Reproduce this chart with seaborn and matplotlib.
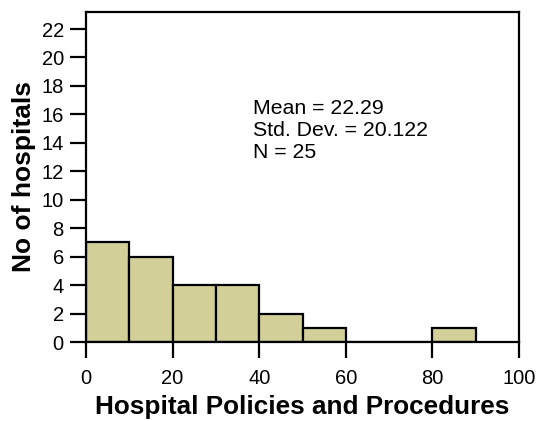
import numpy as np
import pandas as pd
import matplotlib
matplotlib.use("Agg")
import matplotlib.pyplot as plt
import seaborn as sns

# histogram data: bins of width 10
bin_edges = [0, 10, 20, 30, 40, 50, 60, 70, 80, 90]
bin_counts = [7, 6, 4, 4, 2, 1, 0, 0, 1]
bin_mids = [5, 15, 25, 35, 45, 55, 65, 75, 85]

x_ticks = [0, 20, 40, 60, 80, 100]
y_ticks = list(range(0, 23, 2))

stats_text = "Mean = 22.29\nStd. Dev. = 20.122\nN = 25"

sns.set_style("white")
plt.rcParams['font.family'] = ['Liberation Sans', 'DejaVu Sans']
plt.rcParams['text.color'] = 'black'
plt.rcParams['axes.labelcolor'] = 'black'
plt.rcParams['xtick.color'] = 'black'
plt.rcParams['ytick.color'] = 'black'

fig = plt.figure(figsize=(5.39, 4.21), dpi=100)
ax = fig.add_axes([0.1596, 0.1876, 0.8033, 0.784])

df = pd.DataFrame({'value': bin_mids, 'count': bin_counts})
sns.histplot(data=df, x='value', weights='count', bins=bin_edges,
             color='#d3cf98', edgecolor='black', linewidth=1.6, alpha=1, ax=ax)

ax.set_xlim(0, 100)
ax.set_ylim(0, 23.2)
ax.set_xticks(x_ticks)
ax.set_yticks(y_ticks)
ax.tick_params(axis='both', bottom=True, left=True, labelsize=14.5,
               length=11.5, width=1.6, direction='out', colors='black')
ax.tick_params(axis='y', pad=4.5)
ax.tick_params(axis='x', pad=8)
for s in ax.spines.values():
    s.set_linewidth(1.6)
    s.set_color('black')

ax.set_xlabel('Hospital Policies and Procedures', fontsize=18.8, fontweight='bold', labelpad=5)
ax.set_ylabel('No of hospitals', fontsize=19, fontweight='bold', labelpad=4)

ax.text(0.386, 0.737, stats_text, transform=ax.transAxes, fontsize=15.3,
        va='top', ha='left', linespacing=1.22)

fig.savefig('out.png', dpi=100)
